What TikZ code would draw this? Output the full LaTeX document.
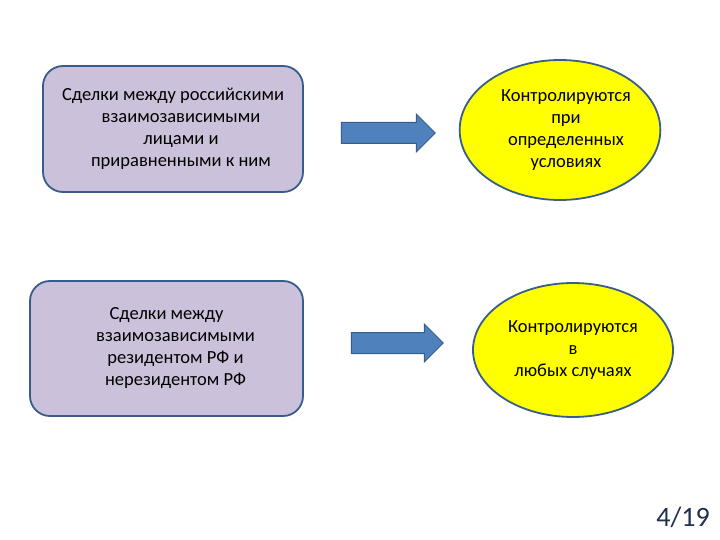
\documentclass[tikz,border=0pt]{standalone}
\usepackage{fontspec}
\setmainfont{Carlito}
\usepackage{xcolor}
\usetikzlibrary{shapes.geometric, shapes.arrows}
\definecolor{boxFill}{HTML}{CCC1DA}
\definecolor{edgeBlue}{HTML}{385D8A}
\definecolor{arrowBlue}{HTML}{4F81BD}
\definecolor{ovalFill}{HTML}{FFFF00}
\definecolor{pageNum}{HTML}{1F3050}

\begin{document}
\begin{tikzpicture}[x=1pt, y=-1pt,
  deal/.style={rectangle, rounded corners=20pt, draw=edgeBlue, line width=1.8pt, fill=boxFill, align=center, inner sep=0pt, font=\fontsize{18.5}{22}\selectfont},
  oval/.style={ellipse, draw=edgeBlue, line width=1.8pt, fill=ovalFill, align=center, inner sep=0pt, font=\fontsize{18.5}{22}\selectfont},
  blockarrow/.style={single arrow, draw=edgeBlue, line width=1pt, fill=arrowBlue, inner xsep=0pt, inner ysep=10pt, text height=0pt, text depth=0pt, single arrow head extend=8.5pt, single arrow head indent=0pt}]
  \useasboundingbox (0,0) rectangle (720,540);
  % left column
  \node[deal, minimum width=260pt, minimum height=126pt] (deal1) at (173,129)
    {Сделки между российскими\\\hspace*{16pt}взаимозависимыми\\\hspace*{16pt}лицами и\\\hspace*{16pt}приравненными к ним};
  \node[deal, minimum width=273pt, minimum height=135pt] (deal2) at (166.5,348.5)
    {Сделки между\\\hspace*{18pt}взаимозависимыми\\\hspace*{18pt}резидентом РФ и\\\hspace*{18pt}нерезидентом РФ};
  % right column
  \node[oval, minimum width=195pt, minimum height=140pt] (ctrl1) at (560,130)
    {\hspace*{12pt}Контролируются\\\hspace*{12pt}при\\\hspace*{12pt}определенных\\\hspace*{12pt}условиях};
  \node[oval, minimum width=200pt, minimum height=134pt] (ctrl2) at (573,350)
    {Контролируются\\в\\любых случаях};
  % arrows
  \node[blockarrow, minimum height=94pt] (arr1) at (383,133) {};
  \node[blockarrow, minimum height=92pt] (arr2) at (392,343) {};
  \node[text=pageNum, font=\fontsize{28}{34}\selectfont] (page) at (683,517) {4/19};
\end{tikzpicture}
\end{document}
